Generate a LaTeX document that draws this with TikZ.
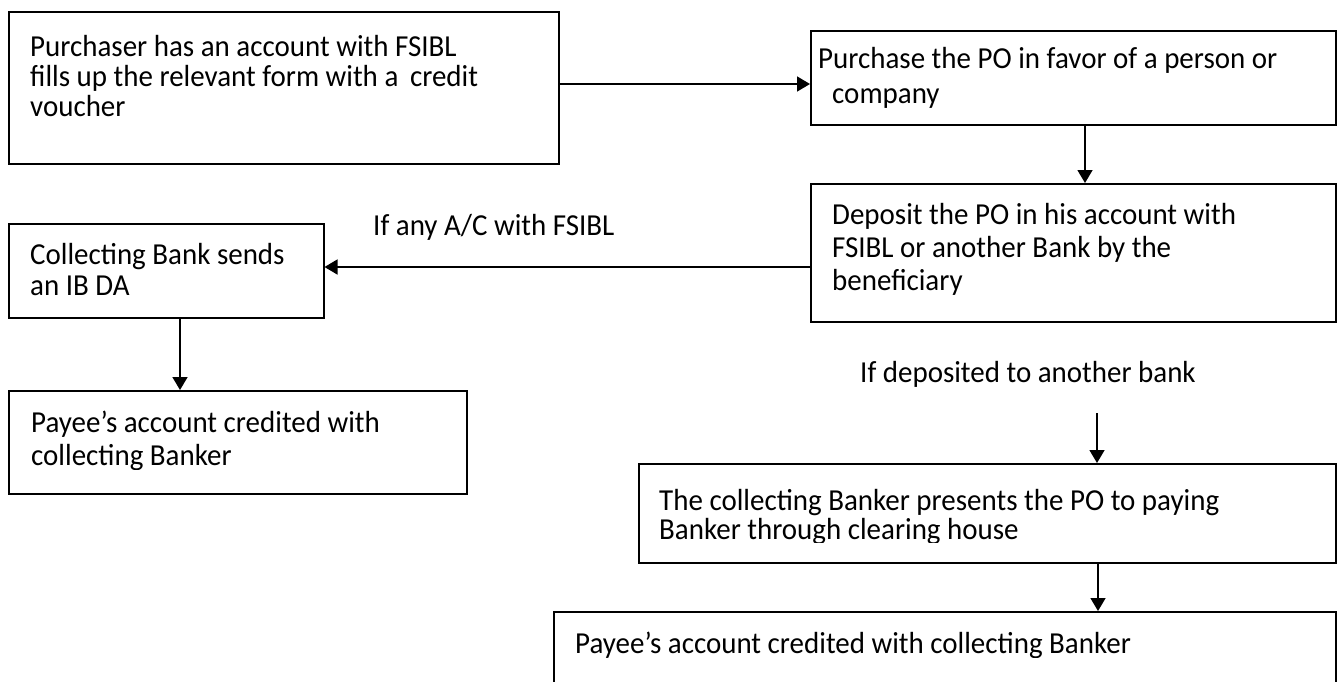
\documentclass[tikz,border=0pt]{standalone}
\usepackage{fontspec}
\setmainfont{Carlito}[FakeStretch=0.95]
\usetikzlibrary{arrows.meta}
\newcommand\fsz{\fontsize{30.5}{30.5}\selectfont}
\newcommand\ml[2]{\vtop{\baselineskip=#1\lineskiplimit=-100pt\lineskip=0pt #2}}
\tikzset{
  box/.style={draw, line width=1.5pt, inner sep=0pt, anchor=north west},
  txt/.style={inner sep=0pt, anchor=base west, font=\fsz},
  flow/.style={line width=1.5pt, -{Triangle[length=13pt,width=15pt]}}
}
\begin{document}
\begin{tikzpicture}[x=1pt,y=-1pt]
\useasboundingbox (0,0) rectangle (1337,681);
\clip (0,0) rectangle (1337,681);
\fill[white] (0,0) rectangle (1337,681);
% boxes
\node[box, minimum width=550pt, minimum height=152pt] (b1) at (8,11) {};
\node[box, minimum width=525pt, minimum height=94pt] (b2) at (810,30) {};
\node[box, minimum width=525pt, minimum height=138pt] (b3) at (810,183) {};
\node[box, minimum width=315pt, minimum height=94pt] (b4) at (8,223) {};
\node[box, minimum width=458pt, minimum height=103pt] (b5) at (8,390) {};
\node[box, minimum width=697pt, minimum height=99pt] (b6) at (638,463) {};
\node[box, minimum width=782pt, minimum height=100pt] (b7) at (553,611) {};
% texts (descenders cut as in the printed lines)
\begin{scope}
\clip (20,20) rectangle (540,63) (20,63) rectangle (540,90) (20,90) rectangle (540,130);
\node[txt] (t1) at (30,56) {\ml{30pt}{\hbox{Purchaser has an account with FSIBL}\hbox{fills up the relevant form with a\ \,credit}\hbox{voucher}}};
\end{scope}
\node[txt] (t2) at (818,68) {\ml{35pt}{\hbox{Purchase the PO in favor of a person or}\hbox{\hspace*{14pt}company}}};
\begin{scope}
\clip (820,190) rectangle (1330,228) (820,228) rectangle (1330,262) (820,262) rectangle (1330,310);
\node[txt] (t3) at (832,224) {\ml{33pt}{\hbox{Deposit the PO in his account with}\hbox{FSIBL or another Bank by the}\hbox{beneficiary}}};
\end{scope}
\begin{scope}
\clip (20,230) rectangle (315,268) (20,268) rectangle (315,310);
\node[txt] (t4) at (30,264) {\ml{31.5pt}{\hbox{Collecting Bank sends}\hbox{an IB DA}}};
\end{scope}
\begin{scope}
\clip (20,395) rectangle (460,440) (20,440) rectangle (460,469);
\node[txt] (t5) at (31,432) {\ml{33pt}{\hbox{Payee’s account credited with}\hbox{collecting Banker}}};
\end{scope}
\begin{scope}
\clip (650,470) rectangle (1330,516) (650,516) rectangle (1330,542);
\node[txt] (t6) at (659,510) {\ml{29pt}{\hbox{The collecting Banker presents the PO to paying}\hbox{Banker through clearing house}}};
\end{scope}
\begin{scope}
\clip (565,618) rectangle (1330,657);
\node[txt] (t7) at (575,653) {Payee’s account credited with collecting Banker};
\end{scope}
\begin{scope}
\clip (360,200) rectangle (640,239);
\node[txt] (l1) at (373,235) {If any A/C with FSIBL};
\end{scope}
\begin{scope}
\clip (850,345) rectangle (1210,386);
\node[txt] (l2) at (860,382) {If deposited to another bank};
\end{scope}
% helper coordinates
\coordinate (y84) at (0,84);
\coordinate (x1085) at (1085,0);
\coordinate (y267) at (0,267);
\coordinate (x180) at (180,0);
\coordinate (s5) at (1097,413);
\coordinate (x1098) at (1098,0);
% connectors
\draw[flow] (b1.east |- y84) -- (b2.west |- y84);
\draw[flow] (b2.south -| x1085) -- (b3.north -| x1085);
\draw[flow] (b3.west |- y267) -- (b4.east |- y267);
\draw[flow] (b4.south -| x180) -- (b5.north -| x180);
\draw[flow] (s5) -- (b6.north -| s5);
\draw[flow] (b6.south -| x1098) -- (b7.north -| x1098);
\end{tikzpicture}
\end{document}
